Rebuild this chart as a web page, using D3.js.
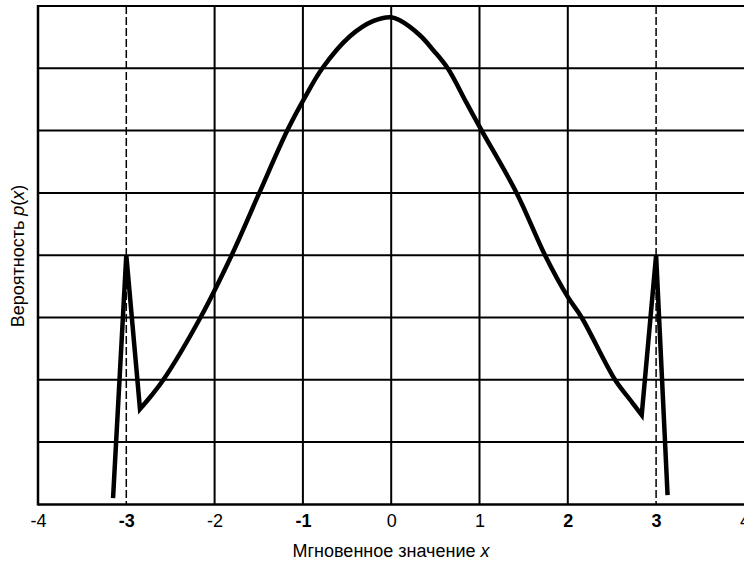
<!DOCTYPE html>
<html><head><meta charset="utf-8">
<script src="https://cdn.jsdelivr.net/npm/d3@7"></script>
<style>body{margin:0;background:#fff}svg{display:block}</style>
</head><body>
<svg id="c" width="744" height="564"></svg>
<script>
const xTicks = [-4,-3,-2,-1,0,1,2,3,4];
const boldTicks = [-3,-1,2,3];
const solidX = [-2,-1,0,1,2];
const dashedX = [-3,3];
const yGrid = [1,2,3,4,5,6,7,8];
const leftSpikeX = [-3.15,-3.0,-2.845];
const leftSpikeY = [0.1,4.0,1.53];
const bodyX = [-2.845,-2.72,-2.58,-2.16,-1.807,-1.494,-1.177,-0.99,-0.78,-0.47,-0.2,0,0.097,0.325,0.477,0.64,0.855,1.025,1.42,1.742,2.0,2.157,2.535,2.705,2.837];
const bodyY = [1.53,1.74,2.0,3.0,4.0,5.0,6.0,6.5,7.0,7.51,7.76,7.82,7.77,7.53,7.29,7.0,6.44,6.0,5.0,4.0,3.33,3.0,2.0,1.68,1.435];
const rightSpikeX = [2.837,3.0,3.13];
const rightSpikeY = [1.435,4.0,0.15];

const svg = d3.select("#c");
const L=38, R=744.4, T=6, B=504.4;
const x = d3.scaleLinear().domain([-4,4]).range([L,R]);
const y = d3.scaleLinear().domain([0,8]).range([B,T]);
const FONT = "Liberation Sans, Arial, sans-serif";

svg.append("g").selectAll("line").data(yGrid).join("line")
  .attr("x1",L).attr("x2",R).attr("y1",d=>y(d)).attr("y2",d=>y(d))
  .attr("stroke","#000").attr("stroke-width",2);
svg.append("g").selectAll("line").data(solidX).join("line")
  .attr("x1",d=>x(d)).attr("x2",d=>x(d)).attr("y1",T).attr("y2",B)
  .attr("stroke","#000").attr("stroke-width",2);
svg.append("g").selectAll("line").data(dashedX).join("line")
  .attr("x1",d=>x(d)).attr("x2",d=>x(d)).attr("y1",T).attr("y2",B)
  .attr("stroke","#000").attr("stroke-width",1.5).attr("stroke-dasharray","8,3");
svg.append("line").attr("x1",L).attr("x2",L).attr("y1",T-1).attr("y2",B+1)
  .attr("stroke","#000").attr("stroke-width",2.5);

const xAxis = d3.axisBottom(x).tickValues(xTicks).tickSize(0).tickPadding(10)
  .tickFormat(d=>String(d));
const gx = svg.append("g").attr("transform",`translate(0,${B})`).call(xAxis);
gx.attr("font-size",null).attr("font-family",null);
gx.select(".domain").attr("stroke","#000").attr("stroke-width",2.5).attr("d",`M${L},0H${R}`);
gx.selectAll("text")
  .style("font-family",FONT).style("font-size","18px").attr("fill","#000")
  .style("font-weight",d=>boldTicks.includes(d)?"bold":"normal");

const toPts = (xs,ys)=>xs.map((v,i)=>[v,ys[i]]);
const lin = d3.line().x(d=>x(d[0])).y(d=>y(d[1])).curve(d3.curveLinear);
const smooth = d3.line().x(d=>x(d[0])).y(d=>y(d[1])).curve(d3.curveCatmullRom.alpha(0.5));
const dLeft = lin(toPts(leftSpikeX,leftSpikeY));
const dBody = smooth(toPts(bodyX,bodyY)).replace(/^M/,"L");
const dRight = lin(toPts(rightSpikeX,rightSpikeY)).replace(/^M/,"L");
svg.append("path").attr("d",dLeft+dBody+dRight)
  .attr("fill","none").attr("stroke","#000").attr("stroke-width",4.5)
  .attr("stroke-linejoin","miter").attr("stroke-miterlimit",10);

const xt = svg.append("text").attr("x",391).attr("y",557).attr("text-anchor","middle")
  .attr("font-family",FONT).attr("font-size",18);
xt.append("tspan").text("Мгновенное значение ");
xt.append("tspan").attr("font-style","italic").text("x");

const yt = svg.append("text").attr("transform","translate(24,256) rotate(-90)")
  .attr("text-anchor","middle")
  .attr("font-family",FONT).attr("font-size",18);
yt.append("tspan").text("Вероятность ");
yt.append("tspan").attr("font-style","italic").text("p");
yt.append("tspan").text("(");
yt.append("tspan").attr("font-style","italic").text("x");
yt.append("tspan").text(")");
</script>
</body></html>
